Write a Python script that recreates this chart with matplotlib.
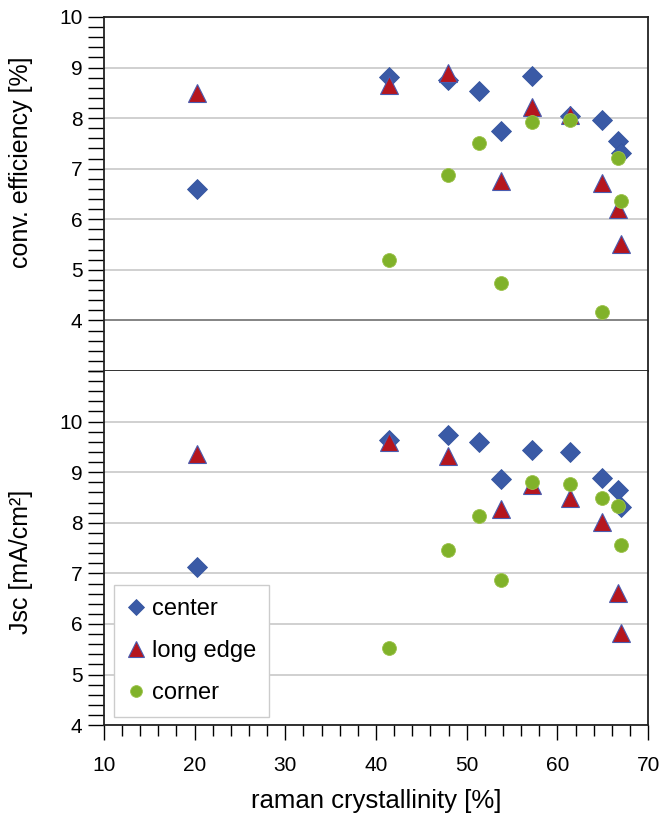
# Efficiency and Jsc vs raman crystallinity, three cell positions
import matplotlib.pyplot as plt
from matplotlib.ticker import MultipleLocator

plt.rcParams['font.family'] = ['Liberation Sans', 'DejaVu Sans']

# raman crystallinity [%]
XC = [20.3, 41.4, 47.9, 51.4, 53.8, 57.2, 61.4, 64.9, 66.7, 67.0]
XL = [20.3, 41.4, 47.9, 53.8, 57.2, 61.4, 64.9, 66.7, 67.0]
XK = [41.4, 47.9, 51.4, 53.8, 57.2, 61.4, 64.9, 66.7, 67.0]

# conv. efficiency [%]
EFF_CENTER = [6.6, 8.81, 8.75, 8.54, 7.75, 8.84, 8.05, 7.96, 7.55, 7.31]
EFF_LONG = [8.5, 8.66, 8.9, 6.76, 8.22, 8.06, 6.72, 6.2, 5.51]
EFF_CORNER = [5.2, 6.88, 7.51, 4.74, 7.93, 7.96, 4.17, 7.21, 6.36]

# Jsc [mA/cm2]
JSC_CENTER = [7.13, 9.63, 9.73, 9.6, 8.87, 9.44, 9.39, 8.89, 8.65, 8.31]
JSC_LONG = [9.35, 9.6, 9.31, 8.28, 8.75, 8.48, 8.02, 6.61, 5.82]
JSC_CORNER = [5.52, 7.46, 8.14, 6.87, 8.8, 8.76, 8.48, 8.34, 7.56]

BLUE = "#3a5aa6"
RED = "#b5161e"
GREEN = "#80b22a"


def draw(ax, yc, yl, yk):
    ax.plot(XC, yc, "D", ms=10, color=BLUE, mec="#3555a0", mew=0.6,
            label="center", zorder=3)
    ax.plot(XL, yl, "^", ms=13, color=RED, mec="#4a5cb0", mew=0.8,
            label="long edge", zorder=4)
    ax.plot(XK, yk, "o", ms=10, color=GREEN, mec="#9cc24a", mew=0.6,
            label="corner", zorder=5)
    ax.set_xlim(10, 70)
    ax.yaxis.set_major_locator(MultipleLocator(1))
    ax.yaxis.set_minor_locator(MultipleLocator(0.2))
    ax.grid(True, axis="y", color="#c8c8c8", lw=1.2)
    ax.set_axisbelow(True)
    ax.tick_params(axis="y", which="both", direction="out", length=11.5,
                   width=1, labelsize=15, pad=4)
    for s in ax.spines.values():
        s.set_color("#222222")
        s.set_linewidth(1.3)


fig = plt.figure(figsize=(6.62, 8.13), dpi=100)
ax1 = fig.add_axes([0.157, 0.5437, 0.822, 0.4354])
ax2 = fig.add_axes([0.157, 0.108, 0.822, 0.4357])

draw(ax1, EFF_CENTER, EFF_LONG, EFF_CORNER)
ax1.set_ylim(3, 10)
ax1.set_yticks([4, 5, 6, 7, 8, 9, 10])
ax1.axhline(4, color="#808080", lw=1.3, zorder=1)
ax1.tick_params(axis="x", which="both", bottom=False, labelbottom=False)
ax1.set_ylabel("conv. efficiency [%]", fontsize=18)
ax1.yaxis.set_label_coords(-0.13, 0.59)

draw(ax2, JSC_CENTER, JSC_LONG, JSC_CORNER)
ax2.set_ylim(4, 11)
ax2.set_yticks([4, 5, 6, 7, 8, 9, 10])
ax2.xaxis.set_major_locator(MultipleLocator(10))
ax2.xaxis.set_minor_locator(MultipleLocator(2))
ax2.tick_params(axis="x", which="major", direction="out", length=11,
                width=1, labelsize=15, pad=11)
ax2.tick_params(axis="x", which="minor", direction="out", length=8, width=1)
ax2.spines["top"].set_visible(False)
ax2.set_ylabel("Jsc [mA/cm²]", fontsize=18)
ax2.yaxis.set_label_coords(-0.13, 0.46)
ax2.set_xlabel("raman crystallinity [%]", fontsize=18.5, labelpad=10)

leg = ax2.legend(loc="lower left", bbox_to_anchor=(0.018, 0.023),
                 borderaxespad=0, fontsize=17, fancybox=False, framealpha=1,
                 edgecolor="#cccccc", handletextpad=0.25, labelspacing=0.85,
                 borderpad=0.55, handlelength=0.8, markerscale=0.85)
leg.get_frame().set_linewidth(1.0)

fig.savefig("out.png", dpi=100)
